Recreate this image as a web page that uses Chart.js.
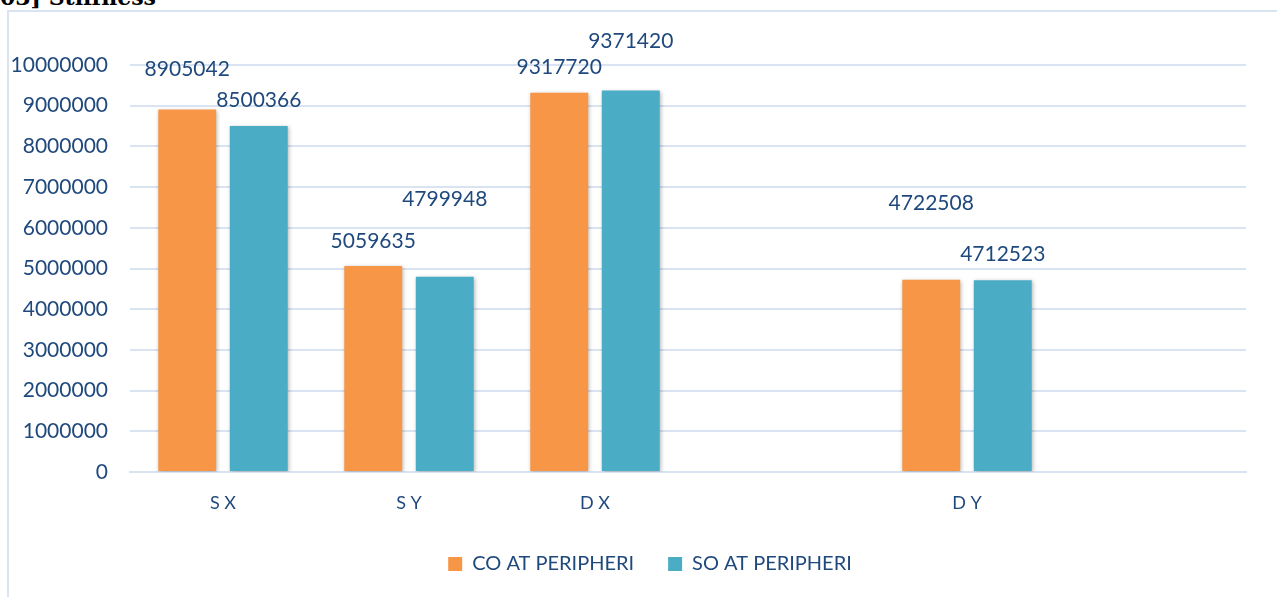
<!DOCTYPE html>
<html>
<head>
<meta charset="utf-8">
<script src="https://cdn.jsdelivr.net/npm/chart.js@4/dist/chart.umd.min.js"></script>
<style>
  html, body { margin: 0; padding: 0; background: #ffffff; overflow: hidden; }
  #wrap { position: relative; width: 1277px; height: 597px; }
  #frame { position: absolute; left: 7px; top: 10px; width: 1300px; height: 620px;
           border: 2px solid #d9e3f2; box-sizing: border-box; }
  #title { position: absolute; left: 0px; top: -14px; font: bold 22px "DejaVu Serif", serif;
           line-height: 22px; color: #000; white-space: nowrap; }
  canvas { position: absolute; left: 0; top: 0; }
</style>
</head>
<body>
<div id="wrap">
  <div id="frame"></div>
  <div id="title">03] Stiffness</div>
  <canvas id="c" width="1277" height="597"></canvas>
</div>
<script>
// Categories (two empty slots keep the spacing of the groups)
const categories = ['S X', 'S Y', 'D X', '', 'D Y', ''];
const coAtPeripheri = [8905042, 5059635, 9317720, null, 4722508, null];
const soAtPeripheri = [8500366, 4799948, 9371420, null, 4712523, null];
const seriesNames = ['CO AT PERIPHERI', 'SO AT PERIPHERI'];
const yTicks = [0, 1000000, 2000000, 3000000, 4000000, 5000000, 6000000, 7000000, 8000000, 9000000, 10000000];

// How far (px) each value label sits above the top of its bar
const labelLift = [
  [40, 25, 26, 0, 77, 0],
  [26, 77, 49, 0, 26, 0]
];
// Horizontal nudge of the legend from the centre of the canvas
const LEGEND_SHIFT = 27;

const TEXT = '#1F497D';
const GRID = '#d9e3f2';

const barShadow = {
  id: 'barShadow',
  beforeDatasetsDraw(chart) {
    const ctx = chart.ctx;
    ctx.save();
    ctx.shadowColor = 'rgba(0,0,0,0.28)';
    ctx.shadowBlur = 4;
    ctx.shadowOffsetX = 1;
    ctx.shadowOffsetY = 1;
  },
  afterDatasetsDraw(chart) {
    chart.ctx.restore();
  }
};

const legendNudge = {
  id: 'legendNudge',
  afterLayout(chart) {
    if (chart.legend) {
      chart.legend.left += LEGEND_SHIFT;
      chart.legend.right += LEGEND_SHIFT;
    }
  }
};

const valueLabels = {
  id: 'valueLabels',
  afterDatasetsDraw(chart) {
    const ctx = chart.ctx;
    ctx.save();
    ctx.font = '21px Lato';
    ctx.fillStyle = TEXT;
    ctx.textAlign = 'center';
    ctx.textBaseline = 'middle';
    chart.data.datasets.forEach((ds, di) => {
      const meta = chart.getDatasetMeta(di);
      meta.data.forEach((bar, i) => {
        const v = ds.data[i];
        if (v === null || v === undefined) return;
        ctx.fillText(String(v), bar.x, bar.y - labelLift[di][i]);
      });
    });
    ctx.restore();
  }
};

new Chart(document.getElementById('c'), {
  type: 'bar',
  data: {
    labels: categories,
    datasets: [
      { label: seriesNames[0], data: coAtPeripheri, backgroundColor: '#F79646',
        categoryPercentage: 0.769, barPercentage: 0.81 },
      { label: seriesNames[1], data: soAtPeripheri, backgroundColor: '#4BACC6',
        categoryPercentage: 0.769, barPercentage: 0.81 }
    ]
  },
  options: {
    responsive: false,
    animation: false,
    layout: { padding: { top: 65, right: 31, left: 0, bottom: 13 } },
    scales: {
      x: {
        grid: { display: false, drawTicks: false },
        border: { display: true, color: GRID, width: 2 },
        ticks: { color: TEXT, font: { family: 'Lato', size: 18 }, padding: 20, maxRotation: 0 },
        afterFit(scale) { scale.height = 48; }
      },
      y: {
        min: 0, max: 10000000,
        afterBuildTicks(scale) { scale.ticks = yTicks.map(v => ({ value: v })); },
        grid: { color: GRID, lineWidth: 2, drawTicks: false },
        border: { display: false },
        ticks: { color: TEXT, font: { family: 'Lato', size: 21 }, padding: 22,
                 callback: v => String(v) },
        afterFit(scale) { scale.width = 130; }
      }
    },
    plugins: {
      legend: {
        position: 'bottom',
        labels: { color: TEXT, font: { family: 'Lato', size: 20 }, boxWidth: 14, boxHeight: 14, padding: 34 }
      },
      tooltip: { enabled: false }
    }
  },
  plugins: [barShadow, legendNudge, valueLabels]
});
</script>
</body>
</html>
